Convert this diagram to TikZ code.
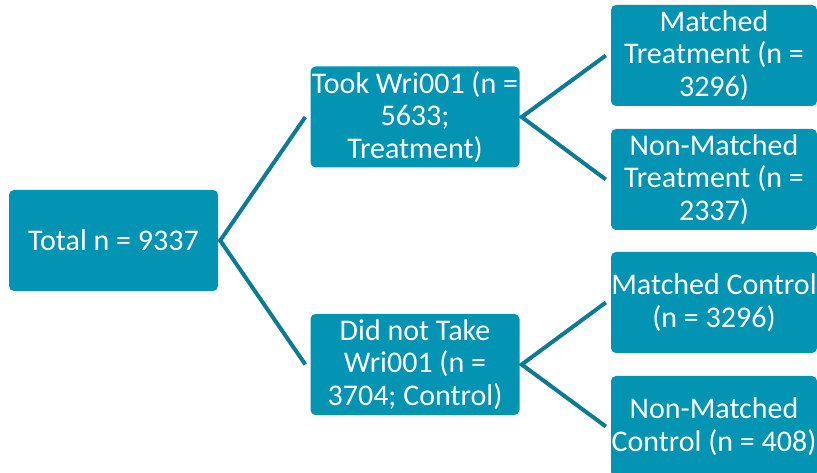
\documentclass[tikz,border=0pt]{standalone}
\usepackage{fontspec}
\setmainfont{Carlito}
\definecolor{boxteal}{HTML}{0393B3}
\definecolor{lineteal}{HTML}{0E7B94}
\begin{document}
\begin{tikzpicture}[x=1pt,y=1pt,
    grp/.style={rectangle, rounded corners=5pt, fill=boxteal, text=white,
      minimum width=209pt, minimum height=101pt, inner sep=0pt,
      align=center, font=\fontsize{30}{32.5}\selectfont},
    link/.style={draw=lineteal, line width=4pt}]
    \useasboundingbox (0,0) rectangle (817,473);

    \node[grp] (total) at (113.5,232.5) {Total n = 9337};

    \node[grp] (took) at (415,356) {Took Wri001 (n =\\ 5633;\\ Treatment)};
    \node[grp] (nottook) at (415,108.5) {Did not Take\\ Wri001 (n =\\ 3704; Control)};

    \node[grp, minimum width=206pt] (mtreat) at (714,417.5) {Matched\\ Treatment (n =\\ 3296)};
    \node[grp, minimum width=206pt] (nmtreat) at (714,293.5) {Non-Matched\\ Treatment (n =\\ 2337)};
    \node[grp, minimum width=206pt] (mctrl) at (714,170.5) {Matched Control\\ (n = 3296)};
    \node[grp, minimum width=206pt] (nmctrl) at (714,46.5) {Non-Matched\\ Control (n = 408)};

    \draw[link] ([xshift=-5pt]took.west) -- ([xshift=2pt]total.east) -- ([xshift=-5pt]nottook.west);
    \draw[link] ([xshift=-5pt]mtreat.west) -- ([xshift=2pt]took.east) -- ([xshift=-5pt]nmtreat.west);
    \draw[link] ([xshift=-5pt]mctrl.west) -- ([xshift=2pt]nottook.east) -- ([xshift=-5pt]nmctrl.west);
  \end{tikzpicture}
\end{document}
